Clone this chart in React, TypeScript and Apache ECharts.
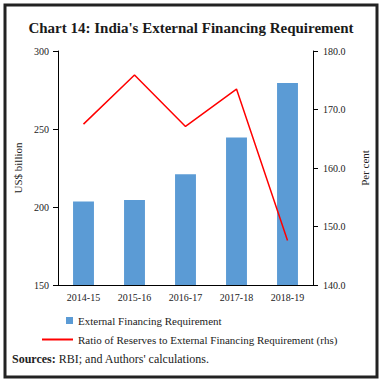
import React, { useEffect, useRef } from "react";
import * as echarts from "echarts";

const categories = ["2014-15", "2015-16", "2016-17", "2017-18", "2018-19"];
const financingRequirement = [203.5, 204.5, 221, 244.5, 279.5];
const reserveRatio = [167.5, 175.9, 167.1, 173.5, 147.6];
const leftTicks = { min: 150, max: 300, interval: 50 };
const rightTicks = { min: 140, max: 180, interval: 10 };

const SERIF = "'Liberation Serif', 'DejaVu Serif', serif";
const TXT = "#222";

export default function App() {
  const ref = useRef<HTMLDivElement>(null);
  useEffect(() => {
    if (!ref.current) return;
    const chart = echarts.init(ref.current, null, { renderer: "svg" });
    chart.setOption({
      animation: false,
      backgroundColor: "#fff",
      textStyle: { fontFamily: SERIF, color: TXT },
      title: {
        text: "Chart 14: India's External Financing Requirement",
        left: "center",
        top: 15,
        textStyle: { fontFamily: SERIF, fontSize: 15, fontWeight: "bold", color: "#1a1a1a" },
      },
      grid: { left: 58, right: 69, top: 51, bottom: 99 },
      legend: [
        {
          data: ["External Financing Requirement"],
          left: 61,
          top: 310,
          itemWidth: 7,
          itemHeight: 7,
          icon: "rect",
          textStyle: { fontFamily: SERIF, fontSize: 11, color: TXT },
        },
        {
          data: ["Ratio of Reserves to External Financing Requirement (rhs)"],
          left: 37,
          top: 329,
          itemWidth: 31,
          itemHeight: 2,
          icon: "rect",
          textStyle: { fontFamily: SERIF, fontSize: 11, color: TXT },
        },
      ],
      xAxis: {
        type: "category",
        data: categories,
        axisLine: { lineStyle: { color: "#000", width: 1 } },
        axisTick: { length: 4, lineStyle: { color: "#000" } },
        axisLabel: { fontFamily: SERIF, fontSize: 10, color: TXT, margin: 7 },
      },
      yAxis: [
        {
          type: "value",
          min: leftTicks.min,
          max: leftTicks.max,
          interval: leftTicks.interval,
          name: "US$ billion",
          nameLocation: "middle",
          nameGap: 29,
          nameTextStyle: { fontFamily: SERIF, fontSize: 11, color: TXT },
          splitLine: { show: false },
          axisLine: { show: true, lineStyle: { color: "#000" } },
          axisTick: { show: true, length: 5, lineStyle: { color: "#000" } },
          axisLabel: { fontFamily: SERIF, fontSize: 10, color: TXT, margin: 9 },
        },
        {
          type: "value",
          min: rightTicks.min,
          max: rightTicks.max,
          interval: rightTicks.interval,
          name: "Per cent",
          nameLocation: "middle",
          nameGap: 46,
          nameRotate: 90,
          nameTextStyle: { fontFamily: SERIF, fontSize: 11, color: TXT },
          splitLine: { show: false },
          axisLine: { show: true, lineStyle: { color: "#000" } },
          axisTick: { show: true, length: 5, lineStyle: { color: "#000" } },
          axisLabel: {
            fontFamily: SERIF,
            fontSize: 10,
            color: TXT,
            margin: 10,
            formatter: (v: number) => v.toFixed(1),
          },
        },
      ],
      series: [
        {
          name: "External Financing Requirement",
          type: "bar",
          data: financingRequirement,
          barWidth: "41%",
          itemStyle: { color: "#5b9bd5" },
        },
        {
          name: "Ratio of Reserves to External Financing Requirement (rhs)",
          type: "line",
          yAxisIndex: 1,
          data: reserveRatio,
          symbol: "none",
          lineStyle: { color: "#ff0000", width: 1.5 },
          itemStyle: { color: "#ff0000" },
        },
      ],
      graphic: [
        {
          type: "rect",
          shape: { x: 5, y: 5, width: 372, height: 372 },
          style: { fill: "none", stroke: "#222", lineWidth: 3 },
          silent: true,
        },
        {
          type: "text",
          left: 12,
          top: 353,
          style: {
            text: "{b|Sources:} RBI; and Authors' calculations.",
            font: `12px ${SERIF}`,
            fill: TXT,
            rich: {
              b: { fontWeight: "bold", fontSize: 12, fontFamily: SERIF, fill: TXT },
            },
          },
        },
      ],
    });
    return () => chart.dispose();
  }, []);
  return <div ref={ref} style={{ width: 382, height: 384, position: "absolute", left: 0, top: 0 }} />;
}
